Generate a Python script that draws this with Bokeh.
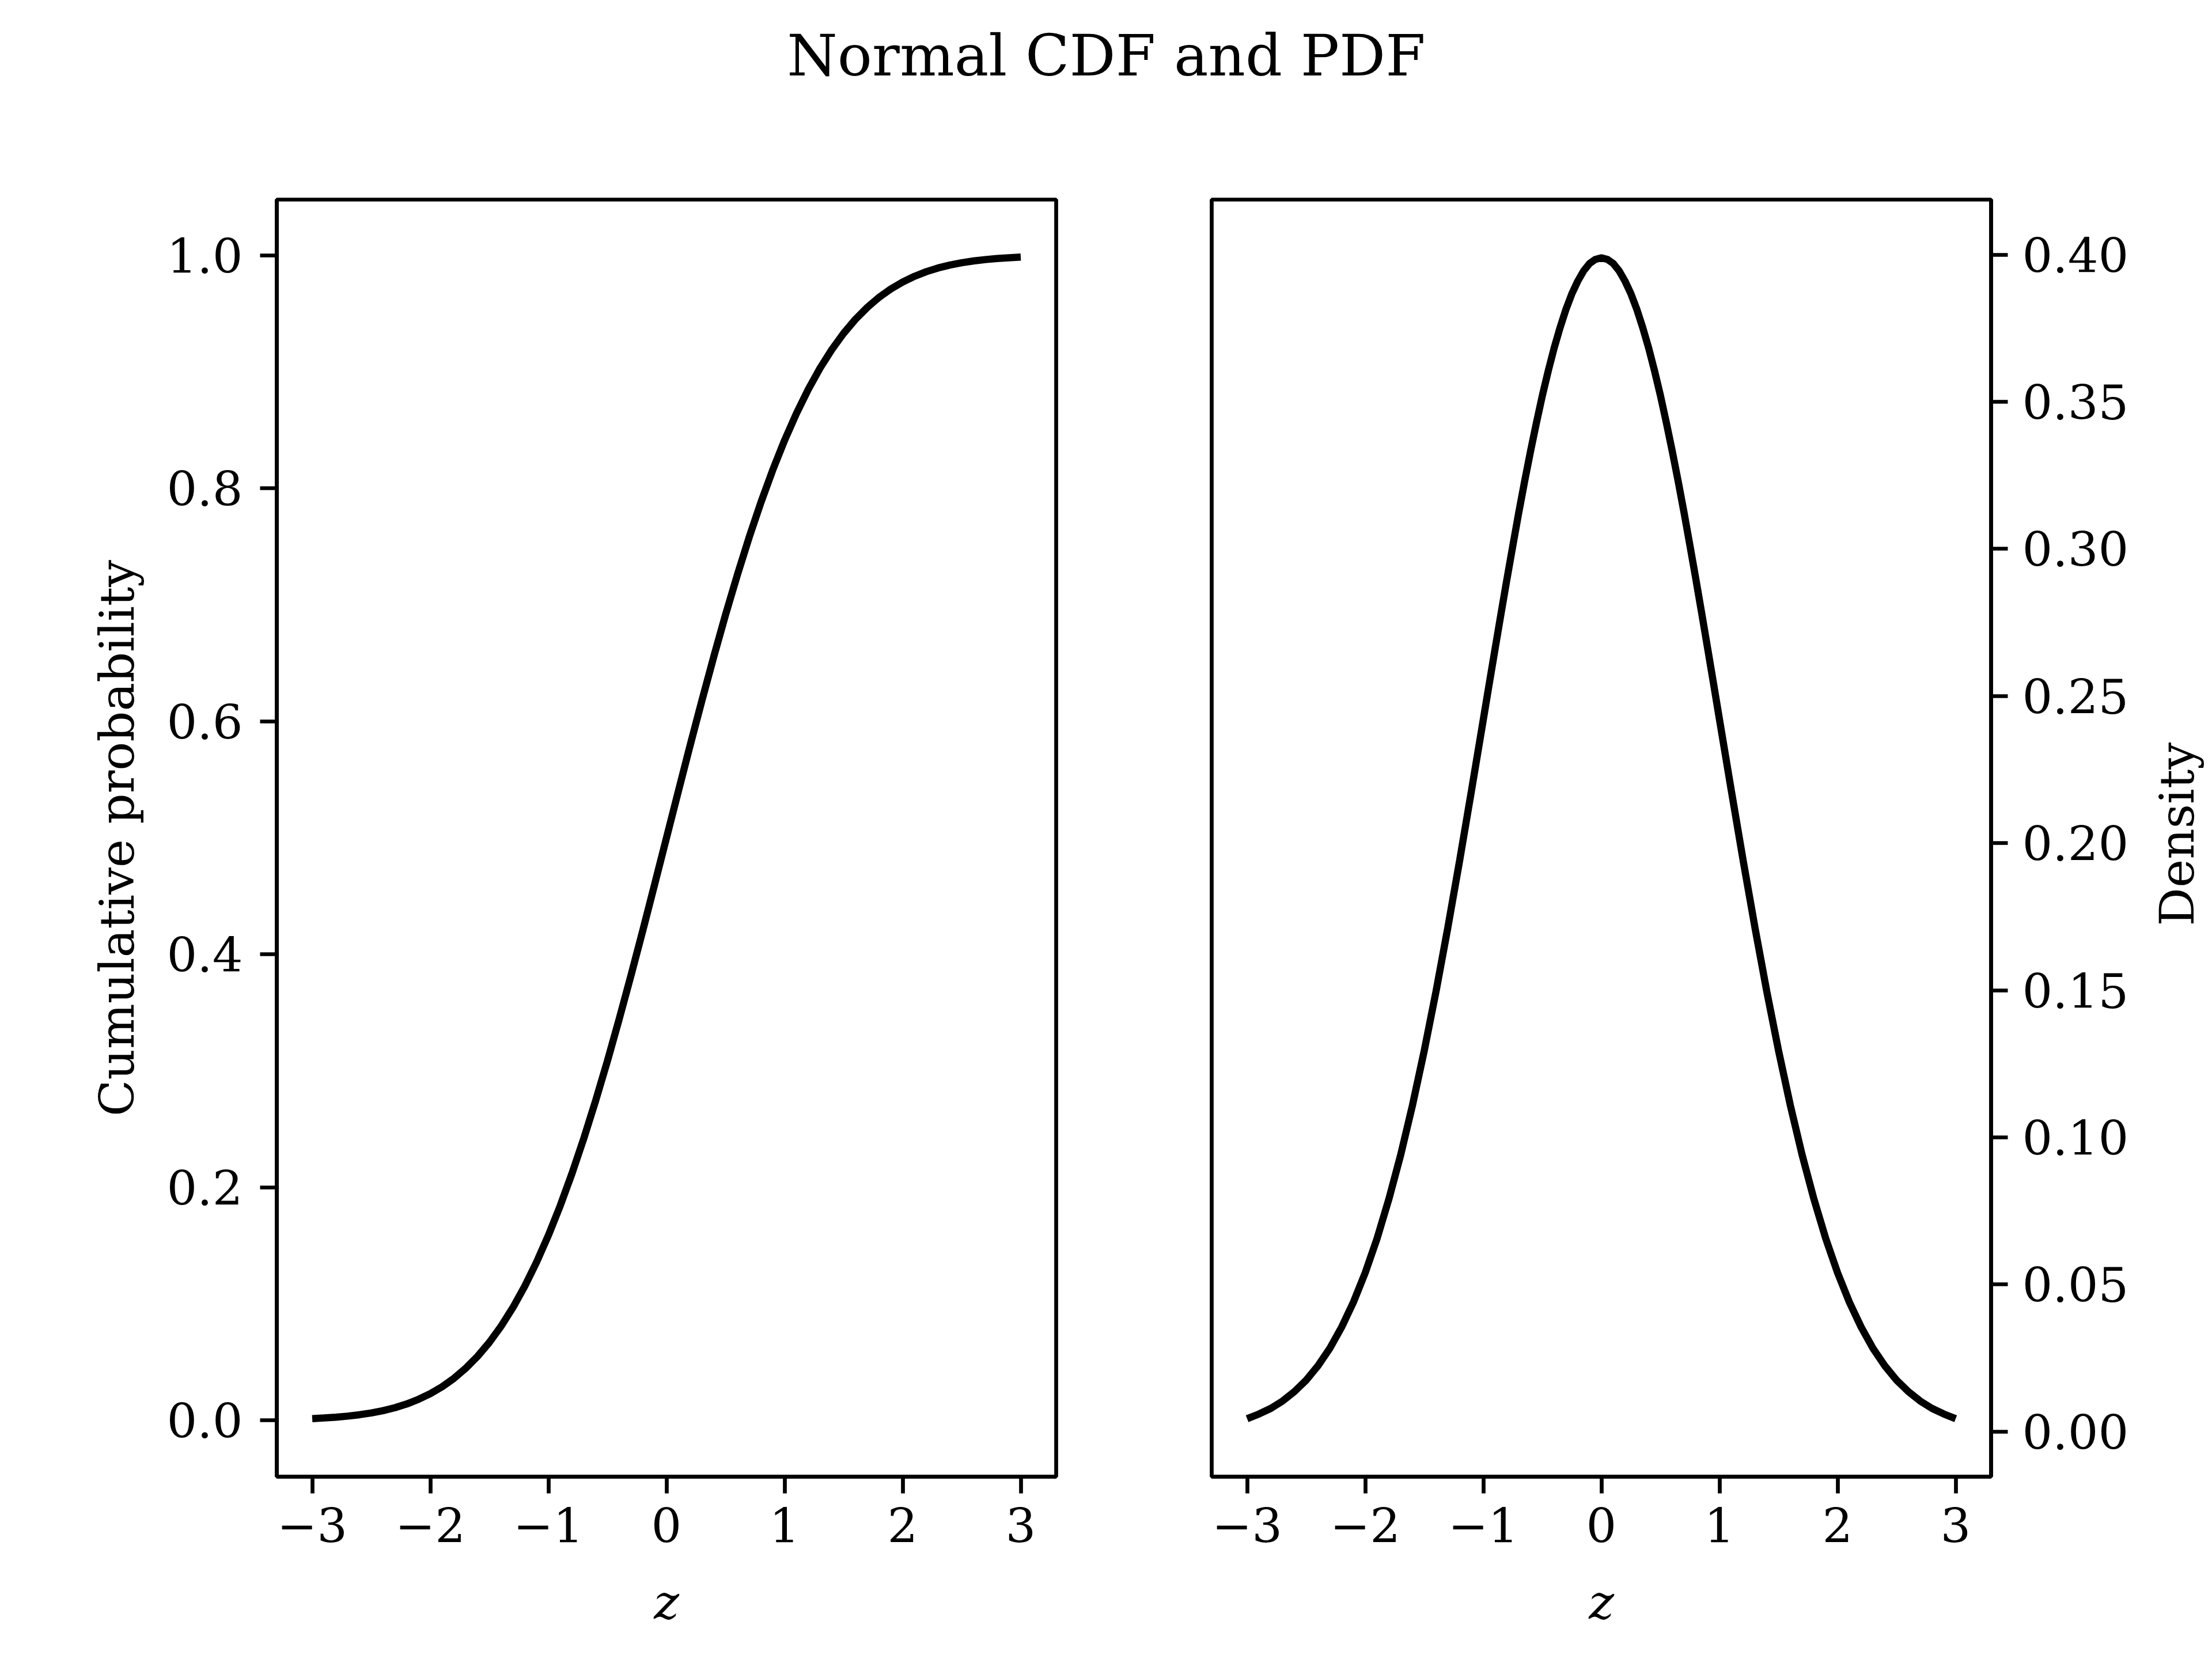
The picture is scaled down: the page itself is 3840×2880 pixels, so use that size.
import math
from bokeh.plotting import figure
from bokeh.layouts import column, row
from bokeh.models import Range1d, FixedTicker, CustomJSTickFormatter, Label, ColumnDataSource
from bokeh.embed import file_html
from bokeh.resources import INLINE

# ---- data ----
z = [-3.0, -2.9, -2.8, -2.7, -2.6, -2.5, -2.4, -2.3, -2.2, -2.1,
     -2.0, -1.9, -1.8, -1.7, -1.6, -1.5, -1.4, -1.3, -1.2, -1.1,
     -1.0, -0.9, -0.8, -0.7, -0.6, -0.5, -0.4, -0.3, -0.2, -0.1,
     0.0, 0.1, 0.2, 0.3, 0.4, 0.5, 0.6, 0.7, 0.8, 0.9,
     1.0, 1.1, 1.2, 1.3, 1.4, 1.5, 1.6, 1.7, 1.8, 1.9,
     2.0, 2.1, 2.2, 2.3, 2.4, 2.5, 2.6, 2.7, 2.8, 2.9, 3.0]

cdf = [0.0013, 0.0019, 0.0026, 0.0035, 0.0047, 0.0062, 0.0082, 0.0107, 0.0139, 0.0179,
       0.0228, 0.0287, 0.0359, 0.0446, 0.0548, 0.0668, 0.0808, 0.0968, 0.1151, 0.1357,
       0.1587, 0.1841, 0.2119, 0.2420, 0.2743, 0.3085, 0.3446, 0.3821, 0.4207, 0.4602,
       0.5000, 0.5398, 0.5793, 0.6179, 0.6554, 0.6915, 0.7257, 0.7580, 0.7881, 0.8159,
       0.8413, 0.8643, 0.8849, 0.9032, 0.9192, 0.9332, 0.9452, 0.9554, 0.9641, 0.9713,
       0.9772, 0.9821, 0.9861, 0.9893, 0.9918, 0.9938, 0.9953, 0.9965, 0.9974, 0.9981, 0.9987]

z_pdf = [-3.0, -2.9, -2.8, -2.7, -2.6, -2.5, -2.4, -2.3, -2.2, -2.1,
         -2.0, -1.9, -1.8, -1.7, -1.6, -1.5, -1.4, -1.3, -1.2, -1.1,
         -1.0, -0.95, -0.9, -0.85, -0.8, -0.75, -0.7, -0.65, -0.6, -0.55,
         -0.5, -0.45, -0.4, -0.35, -0.3, -0.25, -0.2, -0.15, -0.1, -0.05,
         0.0, 0.05, 0.1, 0.15, 0.2, 0.25, 0.3, 0.35, 0.4, 0.45,
         0.5, 0.55, 0.6, 0.65, 0.7, 0.75, 0.8, 0.85, 0.9, 0.95,
         1.0, 1.1, 1.2, 1.3, 1.4, 1.5, 1.6, 1.7, 1.8, 1.9,
         2.0, 2.1, 2.2, 2.3, 2.4, 2.5, 2.6, 2.7, 2.8, 2.9, 3.0]

pdf = [0.0044, 0.0060, 0.0079, 0.0104, 0.0136, 0.0175, 0.0224, 0.0283, 0.0355, 0.0440,
       0.0540, 0.0656, 0.0790, 0.0940, 0.1109, 0.1295, 0.1497, 0.1714, 0.1942, 0.2179,
       0.2420, 0.2541, 0.2661, 0.2780, 0.2897, 0.3011, 0.3123, 0.3230, 0.3332, 0.3429,
       0.3521, 0.3605, 0.3683, 0.3752, 0.3814, 0.3867, 0.3910, 0.3945, 0.3970, 0.3984,
       0.3989, 0.3984, 0.3970, 0.3945, 0.3910, 0.3867, 0.3814, 0.3752, 0.3683, 0.3605,
       0.3521, 0.3429, 0.3332, 0.3230, 0.3123, 0.3011, 0.2897, 0.2780, 0.2661, 0.2541,
       0.2420, 0.2179, 0.1942, 0.1714, 0.1497, 0.1295, 0.1109, 0.0940, 0.0790, 0.0656,
       0.0540, 0.0440, 0.0355, 0.0283, 0.0224, 0.0175, 0.0136, 0.0104, 0.0079, 0.0060, 0.0044]

x_ticks = [-3, -2, -1, 0, 1, 2, 3]
cdf_ticks = [0.0, 0.2, 0.4, 0.6, 0.8, 1.0]
pdf_ticks = [0.00, 0.05, 0.10, 0.15, 0.20, 0.25, 0.30, 0.35, 0.40]

title_text = "Normal CDF and PDF"
x_label = "z"
cdf_label = "Cumulative probability"
pdf_label = "Density"

# ---- styling ----
FONT = "DejaVu Serif"
FS = "83px"
LW = 6.7
TICK = 29
TITLE_H = 300
FIG_H = 2880 - TITLE_H
LEFT_W = 1968
SIDE_W = 140
RIGHT_W = 3840 - LEFT_W - SIDE_W

cdf_src = ColumnDataSource(dict(z=z, cdf=cdf))
pdf_src = ColumnDataSource(dict(z=z_pdf, pdf=pdf))

def int_fmt():
    return CustomJSTickFormatter(code="""
        const v = Math.round(tick);
        return v < 0 ? '\\u2212' + Math.abs(v) : String(v);
    """)

def dec_fmt(n):
    return CustomJSTickFormatter(code="""
        const s = Math.abs(tick).toFixed(%d);
        return tick < -1e-12 ? '\\u2212' + s : s;
    """ % n)

def style_axis(ax):
    ax.axis_line_width = LW
    ax.axis_line_color = "black"
    ax.major_tick_line_width = LW
    ax.major_tick_line_color = "black"
    ax.major_tick_out = TICK
    ax.major_tick_in = 0
    ax.minor_tick_line_color = None
    ax.major_label_text_font = FONT
    ax.major_label_text_font_size = FS
    ax.major_label_text_color = "black"
    ax.axis_label_text_font = FONT
    ax.axis_label_text_font_size = FS
    ax.axis_label_text_font_style = "normal"
    ax.axis_label_text_color = "black"

def make_fig(width, y_range, y_loc, bl, br):
    p = figure(width=width, height=FIG_H, output_backend="svg", toolbar_location=None,
               x_range=Range1d(-3.3, 3.3), y_range=y_range, y_axis_location=y_loc,
               min_border_left=bl, min_border_right=br,
               min_border_top=46, min_border_bottom=317)
    p.grid.visible = False
    p.outline_line_color = "black"
    p.outline_line_width = LW
    p.background_fill_color = "white"
    p.border_fill_color = "white"
    for ax in p.axis:
        style_axis(ax)
    p.xaxis.ticker = FixedTicker(ticks=x_ticks)
    p.xaxis.formatter = int_fmt()
    p.xaxis.axis_label = x_label
    p.xaxis.axis_label_text_font_style = "italic"
    p.xaxis.major_label_standoff = 24
    p.xaxis.axis_label_standoff = 52
    return p

left = make_fig(LEFT_W, Range1d(-0.0485, 1.048), "left", 480, 135)
left.yaxis.ticker = FixedTicker(ticks=cdf_ticks)
left.yaxis.formatter = dec_fmt(1)
left.yaxis.axis_label = cdf_label
left.yaxis.major_label_standoff = 30
left.yaxis.axis_label_standoff = 35
left.line("z", "cdf", source=cdf_src, line_color="black", line_width=12.5)

right = make_fig(RIGHT_W, Range1d(-0.0153, 0.4187), "right", 135, RIGHT_W - 135 - 1353)
right.yaxis.ticker = FixedTicker(ticks=pdf_ticks)
right.yaxis.formatter = dec_fmt(2)
right.yaxis.major_label_standoff = 25
right.line("z", "pdf", source=pdf_src, line_color="black", line_width=12.5)

# narrow strip holding the right-hand axis title, reading bottom-to-top
side = figure(width=SIDE_W, height=FIG_H, output_backend="svg", toolbar_location=None,
              x_range=Range1d(0, SIDE_W), y_range=Range1d(0, FIG_H),
              x_axis_location=None, y_axis_location=None,
              min_border=0, outline_line_color=None)
side.grid.visible = False
side.add_layout(Label(x=79, y=1298, text=pdf_label, angle=math.pi / 2,
                      text_font=FONT, text_font_size=FS, text_color="black",
                      text_align="center", text_baseline="middle"))

head = figure(width=3840, height=TITLE_H, output_backend="svg", toolbar_location=None,
              x_range=Range1d(0, 3840), y_range=Range1d(0, TITLE_H),
              x_axis_location=None, y_axis_location=None,
              min_border=0, outline_line_color=None)
head.grid.visible = False
head.add_layout(Label(x=1920, y=TITLE_H - 96, text=title_text, text_font=FONT,
                      text_font_size="100px", text_align="center",
                      text_baseline="middle", text_color="black"))

layout = column(head, row(left, right, side, spacing=0), spacing=0)
open("out.html", "w").write(file_html(layout, INLINE))
